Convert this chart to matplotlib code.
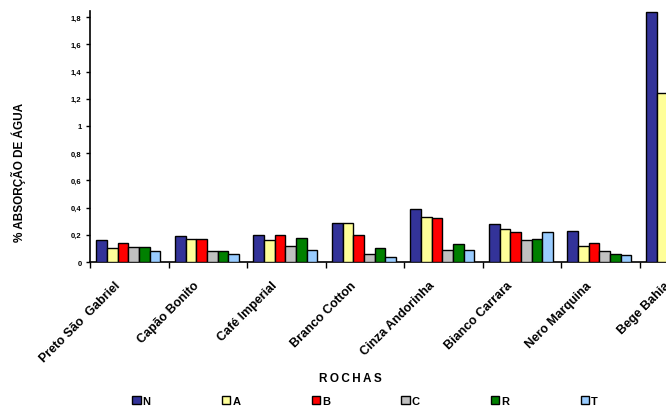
import numpy as np
import matplotlib
matplotlib.use("Agg")
import matplotlib.pyplot as plt
import matplotlib.transforms as mtransforms

plt.rcParams['font.family'] = ['Liberation Sans', 'DejaVu Sans']
plt.rcParams['font.weight'] = 'bold'

# dados
rochas = ["Preto São  Gabriel", "Capão Bonito", "Café Imperial", "Branco Cotton",
          "Cinza Andorinha", "Bianco Carrara", "Nero Marquina", "Bege Bahia"]
series = ["N", "A", "B", "C", "R", "T"]
N = [0.16, 0.19, 0.20, 0.29, 0.39, 0.28, 0.23, 1.84]
A = [0.10, 0.17, 0.16, 0.29, 0.33, 0.24, 0.12, 1.24]
B = [0.14, 0.17, 0.20, 0.20, 0.32, 0.22, 0.14, 1.14]
C = [0.11, 0.08, 0.12, 0.06, 0.09, 0.16, 0.08, 0.90]
R = [0.11, 0.08, 0.18, 0.10, 0.13, 0.17, 0.06, 0.70]
T = [0.08, 0.06, 0.09, 0.04, 0.09, 0.22, 0.05, 0.50]
cores = ["#333399", "#FFFF99", "#FF0000", "#C0C0C0", "#008000", "#99CCFF"]
yticks = [0, 0.2, 0.4, 0.6, 0.8, 1, 1.2, 1.4, 1.6, 1.8]

fig = plt.figure(figsize=(6.66, 4.10), dpi=100)
# área do gráfico passa da borda direita, como no original
ax = fig.add_axes([90 / 666, 1 - 263 / 410, 628 / 666, 251 / 410])

x = np.arange(len(rochas))
w = 0.136
valores = [N, A, B, C, R, T]
for i, (nome, v) in enumerate(zip(series, valores)):
    ax.bar(x + (i - 2.5) * w - 0.01, v, width=w, color=cores[i], edgecolor="black",
           linewidth=1.0, label=nome, zorder=3)

ax.set_xlim(-0.5, len(rochas) - 0.5)
ax.set_ylim(0, 1.845)
ax.set_yticks(yticks)
ax.set_yticklabels([("%g" % t).replace(".", ",") for t in yticks], fontsize=5.5)

ax.set_xticks(np.arange(len(rochas) + 1) - 0.5, minor=True)
ax.tick_params(axis="x", which="minor", length=4, width=1)
ax.tick_params(axis="x", which="major", length=0, pad=8)
ax.tick_params(axis="y", length=3, width=1, pad=3)
ax.set_xticks(x)
ax.set_xticklabels(rochas, rotation=45, ha="right", va="top",
                   rotation_mode="anchor", fontsize=9)
# desloca os rótulos para a esquerda/baixo como no original
desloc = mtransforms.ScaledTranslation(-15 / 100, -6 / 100, fig.dpi_scale_trans)
for lbl in ax.get_xticklabels():
    lbl.set_transform(lbl.get_transform() + desloc)

for s in ["top", "right"]:
    ax.spines[s].set_visible(False)
for s in ["left", "bottom"]:
    ax.spines[s].set_linewidth(1.2)

ax.set_ylabel("% ABSORÇÃO DE ÁGUA", fontsize=8.5, fontweight="bold")
ax.yaxis.set_label_coords((26 - 90) / 628, (263 - 172) / 251)
fig.text(350 / 666, 1 - 379 / 410, "R\u2009O\u2009C\u2009H\u2009A\u2009S",
         ha="center", va="center", fontsize=8.5)

fig.legend(loc="center", bbox_to_anchor=(365 / 666, 1 - 402 / 410), ncol=6,
           frameon=False, fontsize=8, handlelength=0.75, handleheight=0.75,
           handletextpad=0.2, columnspacing=6.4, borderpad=0)

fig.savefig("out.png", dpi=100)
